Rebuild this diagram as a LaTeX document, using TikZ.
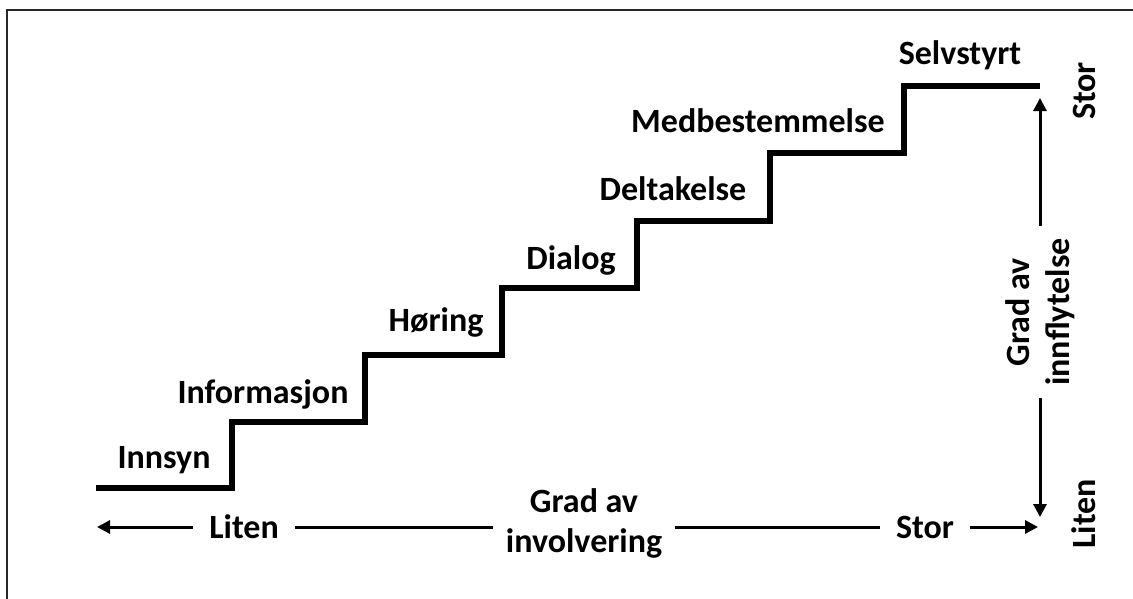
\documentclass[tikz,border=0pt]{standalone}
\usepackage{fontspec}
\setmainfont{Carlito}
\usetikzlibrary{arrows.meta}
\begin{document}
\begin{tikzpicture}[x=1pt,y=-1pt,
  lbl/.style={font=\fontsize{34}{40}\selectfont\bfseries, inner sep=0pt, anchor=base},
  axlbl/.style={font=\fontsize{34}{40}\selectfont\bfseries, inner xsep=16pt, inner ysep=2pt, align=center},
  stair/.style={line width=5.5pt, line join=miter},
  axis/.style={line width=3pt},
  arr/.style={axis, -{Triangle[length=13pt,width=13pt]}}
]
\useasboundingbox (0,0) rectangle (1133,598);
% frame
\draw[line width=2.5pt, black!85] (7,10) rectangle (1150,620);
% staircase
\draw[stair] (96,488) -| (232,422) -| (365,355) -| (502,288) -| (637,221) -| (770,153) -| (904,86) -- (1040,86);
% step labels
\node[lbl] (innsyn) at (164,468) {Innsyn};
\node[lbl] (info) at (263,403) {Informasjon};
\node[lbl] (horing) at (436,331) {Høring};
\node[lbl] (dialog) at (571,269) {Dialog};
\node[lbl] (delta) at (673,200) {Deltakelse};
\node[lbl] (medb) at (758,132) {Medbestemmelse};
\node[lbl] (selv) at (960,64) {Selvstyrt};
% horizontal axis
\coordinate (hl) at (97,527);
\coordinate (hr) at (1038,527);
\node[axlbl] (liten) at (244,527) {Liten};
\node[axlbl, inner xsep=13pt] (invol) at (584,523) {Grad av\\involvering};
\node[axlbl] (stor) at (925,527) {Stor};
\draw[arr] (liten.west |- hl) -- (hl);
\draw[axis] (liten.east |- hl) -- (invol.west |- hl);
\draw[axis] (invol.east |- hl) -- (stor.west |- hl);
\draw[arr] (stor.east |- hr) -- (hr);
% vertical axis
\coordinate (vt) at (1040,98);
\coordinate (vb) at (1040,517);
\node[axlbl, rotate=90, inner xsep=12pt] (infl) at (1040,312) {Grad av\\innflytelse};
\draw[arr] (vt |- infl.east) -- (vt);
\draw[arr] (vb |- infl.west) -- (vb);
\node[lbl, rotate=90] (vstor) at (1095,91) {Stor};
\node[lbl, rotate=90] (vliten) at (1095,514) {Liten};
\end{tikzpicture}
\end{document}
